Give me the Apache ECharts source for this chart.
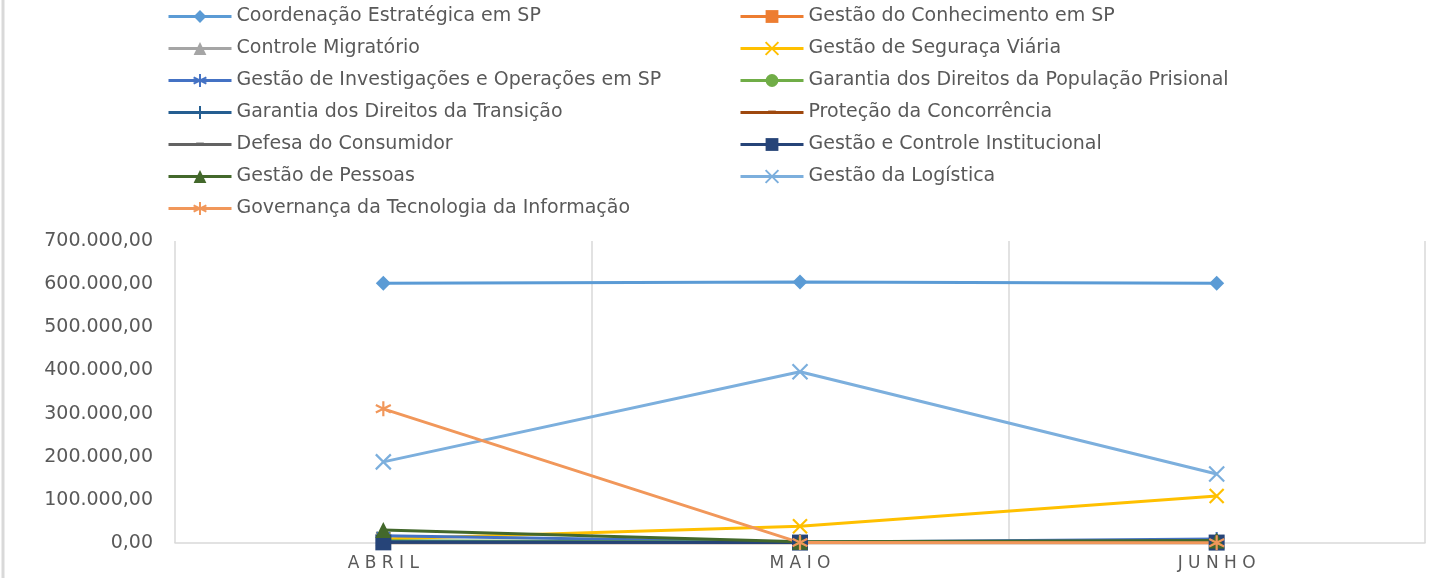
<!DOCTYPE html>
<html>
<head>
<meta charset="utf-8">
<script src="https://cdn.jsdelivr.net/npm/echarts@6/dist/echarts.min.js"></script>
<style>
  html, body { margin: 0; padding: 0; background: #fff; }
  #chart { width: 1440px; height: 578px; }
</style>
</head>
<body>
<div id="chart"></div>
<script>
var months = ['ABRIL', 'MAIO', 'JUNHO'];

var names = [
  'Coordenação Estratégica em SP',
  'Gestão do Conhecimento em SP',
  'Controle Migratório',
  'Gestão de Seguraça Viária',
  'Gestão de Investigações e Operações em SP',
  'Garantia dos Direitos da População Prisional',
  'Garantia dos Direitos da Transição',
  'Proteção da Concorrência',
  'Defesa do Consumidor',
  'Gestão e Controle Institucional',
  'Gestão de Pessoas',
  'Gestão da Logística',
  'Governança da Tecnologia da Informação'
];

var coordenacao = [602000, 605000, 602000];
var conhecimento = [2000, 1000, 1000];
var migratorio = [3000, 1000, 1000];
var viaria = [9000, 39000, 109000];
var investigacoes = [17000, 2000, 9000];
var prisional = [5000, 1500, 2000];
var transicao = [3000, 1000, 4000];
var concorrencia = [500, 300, 300];
var consumidor = [800, 500, 500];
var institucional = [1500, 1000, 1000];
var pessoas = [30000, 3000, 6000];
var logistica = [188000, 397000, 160000];
var governanca = [311000, 1000, 500];

var values = [coordenacao, conhecimento, migratorio, viaria, investigacoes, prisional,
  transicao, concorrencia, consumidor, institucional, pessoas, logistica, governanca];

var colors = ['#5B9BD5', '#ED7D31', '#A5A5A5', '#FFC000', '#4472C4', '#70AD47',
  '#255E91', '#9E480E', '#636363', '#264478', '#43682B', '#7CAFDD', '#F1975A'];

var crossPath = 'path://M0,0L10,10M0,10L10,0';
var starPath = 'path://M5,0L5,10M0.7,2.5L9.3,7.5M0.7,7.5L9.3,2.5';
var plusPath = 'path://M5,0L5,10M0,5L10,5';
var dashPath = 'path://M0,0L0,0M2,3.5L8,3.5L8,5.5L2,5.5ZM10,10L10,10';

var symbols = ['diamond', 'rect', 'triangle', crossPath, starPath, 'circle',
  plusPath, dashPath, dashPath, 'rect', 'triangle', crossPath, starPath];
var sizes = [15, 13, 14, 14, 14, 12, 14, 14, 14, 16, 16, 15, 15];

function fmt(v) {
  var s = String(Math.round(v));
  s = s.replace(/\B(?=(\d{3})+(?!\d))/g, '.');
  return s + ',00';
}

var series = names.map(function (n, i) {
  var stroked = symbols[i] === crossPath || symbols[i] === starPath || symbols[i] === plusPath;
  return {
    name: n,
    type: 'line',
    data: values[i],
    symbol: symbols[i],
    symbolSize: sizes[i],
    color: colors[i],
    lineStyle: { width: 3, color: colors[i] },
    itemStyle: stroked
      ? { color: colors[i], borderColor: colors[i], borderWidth: 2.2 }
      : { color: colors[i], borderWidth: 0 }
  };
});

var leftNames = names.filter(function (n, i) { return i % 2 === 0; });
var rightNames = names.filter(function (n, i) { return i % 2 === 1; });

var legendBase = {
  orient: 'vertical',
  top: 7,
  padding: 0,
  itemWidth: 63,
  itemHeight: 16,
  itemGap: 13,
  lineStyle: { width: 3 },
  textStyle: { color: '#595959', fontSize: 19, fontFamily: 'DejaVu Sans' }
};

var chart = echarts.init(document.getElementById('chart'));

var option = {
  animation: false,
  backgroundColor: '#fff',
  legend: [
    Object.assign({}, legendBase, { left: 167, data: leftNames }),
    Object.assign({}, legendBase, { left: 739, data: rightNames })
  ],
  graphic: [{
    type: 'line',
    shape: { x1: 3, y1: 0, x2: 3, y2: 578 },
    style: { stroke: '#d9d9d9', lineWidth: 3 }
  }],
  grid: { left: 175, right: 15, top: 241, bottom: 35 },
  xAxis: {
    type: 'category',
    data: months,
    boundaryGap: true,
    axisLine: { lineStyle: { color: '#d9d9d9', width: 1.5 } },
    axisTick: { show: false },
    splitLine: { show: true, lineStyle: { color: '#d9d9d9', width: 1.5 } },
    axisLabel: {
      color: '#595959',
      fontSize: 17,
      fontFamily: 'DejaVu Sans',
      margin: 12,
      formatter: function (v) { return v.split('').join(' '); }
    }
  },
  yAxis: {
    type: 'value',
    min: 0,
    max: 700000,
    interval: 100000,
    axisLine: { show: false },
    axisTick: { show: false },
    splitLine: { show: false },
    axisLabel: {
      color: '#595959',
      fontSize: 19,
      fontFamily: 'DejaVu Sans',
      margin: 22,
      formatter: fmt
    }
  },
  series: series
};

option && chart.setOption(option);
</script>
</body>
</html>
